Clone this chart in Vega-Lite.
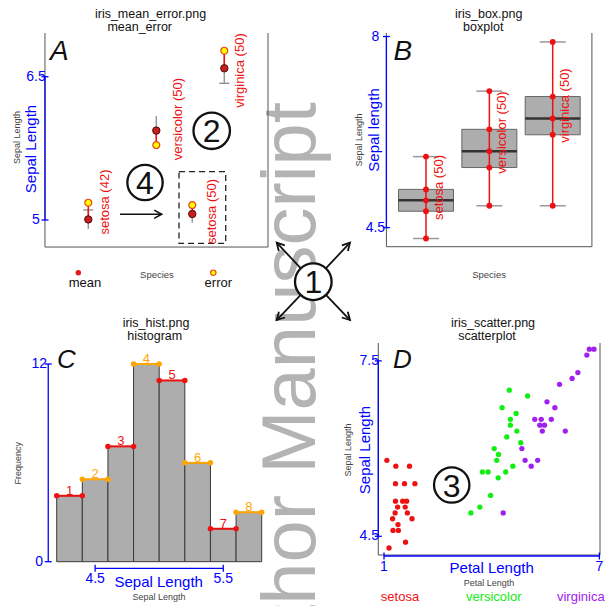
{
"$schema":"https://vega.github.io/schema/vega-lite/v6.json",
"width":605,"height":606,"autosize":{"type":"none"},"padding":0,"background":"white",
"config":{"view":{"stroke":null},"axis":{"disable":true,"labelFont":"Liberation Sans"},"text":{"font":"Liberation Sans"}},
"data":{"values":[{}]},
"resolve":{"scale":{"x":"independent","y":"independent","color":"independent"},"axis":{"x":"independent","y":"independent"}},
"layer":[
{
"layer":[
 {"mark":{"type":"text","text":"Author Manuscript","angle":270,"align":"right","baseline":"alphabetic","fontSize":76,"color":"#b3b3b3"},"encoding":{"x":{"datum":4.334},"y":{"datum":6.235}}},
 {"mark":{"type":"rule","color":"#555","strokeWidth":1},"encoding":{"x":{"datum":0.363},"y":{"datum":4.717},"y2":{"datum":6.957}}},
 {"mark":{"type":"rule","color":"#555","strokeWidth":1},"encoding":{"x":{"datum":0.363},"x2":{"datum":3.643},"y":{"datum":4.717}}},
 {"mark":{"type":"rule","color":"#555","strokeWidth":1},"encoding":{"x":{"datum":3.643},"y":{"datum":4.717},"y2":{"datum":6.957}}},
 {"mark":{"type":"rect","filled":false,"stroke":"#222","strokeWidth":1.3,"strokeDash":[6,4]},"encoding":{"x":{"datum":2.334},"x2":{"datum":3.021},"y":{"datum":4.756},"y2":{"datum":5.506}}},
 {"data":{"values":[{"x":1,"y":4.906,"y2":5.105},{"x":2,"y":5.79,"y2":6.089},{"x":3,"y":6.431,"y2":6.77},{"x":2.529,"y":4.972,"y2":5.063}]},"mark":{"type":"rule","color":"#9a9a9a","strokeWidth":1.5},
  "encoding":{
   "x":{"field":"x","type":"quantitative","scale":{"domain":[1,3],"range":[88.3,224.3],"nice":false,"zero":false},
    "axis":{"disable":false,"orient":"bottom","offset":-359,"values":[1,2,3],"labelExpr":"datum.value==1?'setosa':(datum.value==2?'versicolor':'virginica')","domain":false,"grid":false,"title":null,"labelFontSize":7,"labelColor":"#444","tickColor":"#444","tickSize":3,"labelPadding":3}},
   "y":{"field":"y","type":"quantitative","scale":{"domain":[5,6.5],"range":[220,76.7],"nice":false,"zero":false},
    "axis":{"disable":false,"orient":"left","offset":-45,"values":[5,5.5,6,6.5],"format":".1f","domain":false,"grid":false,"title":null,"labelFontSize":6,"labelAngle":-90,"labelColor":"#555","tickColor":"#555","tickSize":3,"labelPadding":2}},
   "y2":{"field":"y2"}}},
 {"data":{"values":[{"x":1,"y":5.105},{"x":3,"y":6.431}]},"mark":{"type":"tick","orient":"horizontal","color":"#8a8a8a","size":10,"thickness":1.3,"opacity":1},"encoding":{"x":{"field":"x","type":"quantitative"},"y":{"field":"y","type":"quantitative"}}},
 {"data":{"values":[{"x":1,"y":5.006,"y2":5.181},{"x":2,"y":5.936,"y2":5.785},{"x":3,"y":6.588,"y2":6.772},{"x":2.529,"y":5.063,"y2":5.157}]},"mark":{"type":"rule","color":"#ee1111","strokeWidth":1.5},"encoding":{"x":{"field":"x","type":"quantitative"},"y":{"field":"y","type":"quantitative"},"y2":{"field":"y2"}}},
 {"data":{"values":[{"x":1,"y":5.181},{"x":2,"y":5.785},{"x":3,"y":6.772},{"x":2.529,"y":5.157}]},"mark":{"type":"point","shape":"circle","filled":true,"fill":"#ffff00","stroke":"#e8401a","strokeWidth":1.2,"size":48,"opacity":1},"encoding":{"x":{"field":"x","type":"quantitative"},"y":{"field":"y","type":"quantitative"}}},
 {"data":{"values":[{"x":1,"y":5.006},{"x":2,"y":5.936},{"x":3,"y":6.588},{"x":2.529,"y":5.063}]},"mark":{"type":"point","shape":"circle","filled":true,"fill":"#c81e1e","stroke":"#4a1010","strokeWidth":1,"size":55,"opacity":1},"encoding":{"x":{"field":"x","type":"quantitative"},"y":{"field":"y","type":"quantitative"}}},
 {"mark":{"type":"text","text":"setosa (42)","angle":270,"align":"center","baseline":"middle","fontSize":13,"color":"#ee1111"},"encoding":{"x":{"datum":1.246},"y":{"datum":5.188}}},
 {"mark":{"type":"text","text":"versicolor (50)","angle":270,"align":"center","baseline":"middle","fontSize":13,"color":"#ee1111"},"encoding":{"x":{"datum":2.319},"y":{"datum":6.057}}},
 {"mark":{"type":"text","text":"virginica (50)","angle":270,"align":"center","baseline":"middle","fontSize":13,"color":"#ee1111"},"encoding":{"x":{"datum":3.231},"y":{"datum":6.565}}},
 {"mark":{"type":"text","text":"setosa (50)","angle":270,"align":"center","baseline":"middle","fontSize":13,"color":"#ee1111"},"encoding":{"x":{"datum":2.815},"y":{"datum":5.089}}},
 {"data":{"values":[{"y":5,"label":"5"},{"y":6.5,"label":"6.5"}]},"mark":{"type":"rule","color":"#0000ff","strokeWidth":1.3},"encoding":{"x":{"datum":0.363},"y":{"aggregate":"min","field":"y","type":"quantitative"},"y2":{"aggregate":"max","field":"y"}}},
 {"data":{"values":[{"y":5,"label":"5"},{"y":6.5,"label":"6.5"}]},"mark":{"type":"tick","orient":"horizontal","color":"#0000ff","size":7,"thickness":1.3,"opacity":1},"encoding":{"x":{"datum":0.363},"y":{"field":"y","type":"quantitative"}}},
 {"data":{"values":[{"y":5,"label":"5"},{"y":6.5,"label":"6.5"}]},"mark":{"type":"text","color":"#0000ff","fontSize":14,"align":"center","baseline":"middle","dx":-9},"encoding":{"x":{"datum":0.363},"y":{"field":"y","type":"quantitative"},"text":{"field":"label"}}},
 {"mark":{"type":"text","text":"Sepal Length","angle":270,"align":"center","baseline":"middle","fontSize":9,"color":"#444"},"encoding":{"x":{"datum":-0.0485},"y":{"datum":5.864}}},
 {"mark":{"type":"text","text":"Sepal Length","angle":270,"align":"center","baseline":"middle","fontSize":15,"color":"#0000ff"},"encoding":{"x":{"datum":0.157},"y":{"datum":5.743}}},
 {"mark":{"type":"text","text":"Species","align":"center","baseline":"middle","fontSize":9.5,"color":"#444"},"encoding":{"x":{"datum":2.01},"y":{"datum":4.424}}},
 {"mark":{"type":"point","shape":"circle","filled":true,"fill":"#e31a1a","strokeWidth":0,"size":30,"opacity":1},"encoding":{"x":{"datum":0.853},"y":{"datum":4.448}}},
 {"mark":{"type":"text","text":"mean","align":"center","baseline":"alphabetic","fontSize":13,"color":"#111"},"encoding":{"x":{"datum":0.951},"y":{"datum":4.299}}},
 {"mark":{"type":"point","shape":"circle","filled":true,"fill":"#ffff00","stroke":"#e8401a","strokeWidth":1.2,"size":30,"opacity":1},"encoding":{"x":{"datum":2.838},"y":{"datum":4.448}}},
 {"mark":{"type":"text","text":"error","align":"center","baseline":"alphabetic","fontSize":13,"color":"#111"},"encoding":{"x":{"datum":2.912},"y":{"datum":4.299}}},
 {"mark":{"type":"text","text":"iris_mean_error.png","align":"center","baseline":"alphabetic","fontSize":12.5,"color":"#111"},"encoding":{"x":{"datum":1.915},"y":{"datum":7.119}}},
 {"mark":{"type":"text","text":"mean_error","align":"center","baseline":"alphabetic","fontSize":12.5,"color":"#111"},"encoding":{"x":{"datum":1.756},"y":{"datum":6.979}}},
 {"mark":{"type":"text","text":"A","align":"left","baseline":"alphabetic","fontSize":28,"fontStyle":"italic","color":"#111"},"encoding":{"x":{"datum":0.437},"y":{"datum":6.675}}},
 {"mark":{"type":"rule","color":"#111","strokeWidth":1.6},"encoding":{"x":{"datum":1.466},"x2":{"datum":2.079},"y":{"datum":5.06}}},
 {"mark":{"type":"point","shape":"M -1 -0.55 L 0 0 L -1 0.55","filled":false,"color":"#111","strokeWidth":1.6,"size":225,"angle":0,"opacity":1},"encoding":{"x":{"datum":2.079},"y":{"datum":5.06}}},
 {"mark":{"type":"point","shape":"circle","filled":true,"fill":"white","stroke":"#111","strokeWidth":2.3,"size":1330,"opacity":1},"encoding":{"x":{"datum":2.815},"y":{"datum":5.934}}},
 {"mark":{"type":"text","text":"2","align":"center","baseline":"alphabetic","dy":11.5,"fontSize":32,"color":"#111"},"encoding":{"x":{"datum":2.815},"y":{"datum":5.934}}},
 {"mark":{"type":"point","shape":"circle","filled":true,"fill":"white","stroke":"#111","strokeWidth":2.3,"size":1250,"opacity":1},"encoding":{"x":{"datum":1.834},"y":{"datum":5.393}}},
 {"mark":{"type":"text","text":"4","align":"center","baseline":"alphabetic","dy":11.5,"fontSize":32,"color":"#111"},"encoding":{"x":{"datum":1.834},"y":{"datum":5.393}}}
]
},
{
"layer":[
 {"mark":{"type":"rule","color":"#555","strokeWidth":1},"encoding":{"x":{"datum":0.375},"y":{"datum":4.15},"y2":{"datum":8.064}}},
 {"mark":{"type":"rule","color":"#555","strokeWidth":1},"encoding":{"x":{"datum":0.375},"x2":{"datum":3.619},"y":{"datum":4.15}}},
 {"mark":{"type":"rule","color":"#555","strokeWidth":1},"encoding":{"x":{"datum":3.619},"y":{"datum":4.15},"y2":{"datum":8.064}}},
 {"data":{"values":[{"x":1,"y":4.8,"y2":5.2},{"x":2,"y":5.6,"y2":6.3},{"x":3,"y":6.2,"y2":6.9}]},"mark":{"type":"bar","width":55,"fill":"#adadad","stroke":"#666","strokeWidth":1,"orient":"vertical"},
  "encoding":{
   "x":{"field":"x","type":"quantitative","scale":{"domain":[1,3],"range":[421,557.7],"nice":false,"zero":false},
    "axis":{"disable":false,"orient":"bottom","offset":-359,"values":[1,2,3],"labelExpr":"datum.value==1?'setosa':(datum.value==2?'versicolor':'virginica')","domain":false,"grid":false,"title":null,"labelFontSize":7,"labelColor":"#444","tickColor":"#444","tickSize":3,"labelPadding":3}},
   "y":{"field":"y","type":"quantitative","scale":{"domain":[4.5,8],"range":[227.6,36.5],"nice":false,"zero":false},
    "axis":{"disable":false,"orient":"left","offset":-378.3,"values":[4.5,5,5.5,6,6.5,7,7.5,8],"format":".1f","domain":false,"grid":false,"title":null,"labelFontSize":6,"labelAngle":-90,"labelColor":"#555","tickColor":"#555","tickSize":3,"labelPadding":2}},
   "y2":{"field":"y2"}}},
 {"data":{"values":[{"x":1,"y":5.0},{"x":2,"y":5.9},{"x":3,"y":6.5}]},"mark":{"type":"tick","orient":"horizontal","color":"#333","size":55,"thickness":2.5,"opacity":1},"encoding":{"x":{"field":"x","type":"quantitative"},"y":{"field":"y","type":"quantitative"}}},
 {"data":{"values":[{"x":1,"y":4.3},{"x":1,"y":5.8},{"x":2,"y":4.9},{"x":2,"y":7.0},{"x":3,"y":4.9},{"x":3,"y":7.9}]},"mark":{"type":"tick","orient":"horizontal","color":"#999","size":26,"thickness":1.5,"opacity":1},"encoding":{"x":{"field":"x","type":"quantitative"},"y":{"field":"y","type":"quantitative"}}},
 {"data":{"values":[{"x":1,"y":4.3,"y2":5.8},{"x":2,"y":4.9,"y2":7.0},{"x":3,"y":4.9,"y2":7.9}]},"mark":{"type":"rule","color":"#ee1111","strokeWidth":1.5},"encoding":{"x":{"field":"x","type":"quantitative"},"y":{"field":"y","type":"quantitative"},"y2":{"field":"y2"}}},
 {"data":{"values":[{"x":1,"y":4.3},{"x":1,"y":4.8},{"x":1,"y":5.0},{"x":1,"y":5.2},{"x":1,"y":5.8},{"x":2,"y":4.9},{"x":2,"y":5.6},{"x":2,"y":5.9},{"x":2,"y":6.3},{"x":2,"y":7.0},{"x":3,"y":4.9},{"x":3,"y":6.2},{"x":3,"y":6.5},{"x":3,"y":6.9},{"x":3,"y":7.9}]},"mark":{"type":"point","shape":"circle","filled":true,"color":"#ee1111","size":34,"opacity":1},"encoding":{"x":{"field":"x","type":"quantitative"},"y":{"field":"y","type":"quantitative"}}},
 {"mark":{"type":"text","text":"setosa (50)","angle":270,"align":"center","baseline":"middle","fontSize":13,"color":"#ee1111"},"encoding":{"x":{"datum":1.205},"y":{"datum":5.234}}},
 {"mark":{"type":"text","text":"versicolor (50)","angle":270,"align":"center","baseline":"middle","fontSize":13,"color":"#ee1111"},"encoding":{"x":{"datum":2.2},"y":{"datum":6.242}}},
 {"mark":{"type":"text","text":"virginica (50)","angle":270,"align":"center","baseline":"middle","fontSize":13,"color":"#ee1111"},"encoding":{"x":{"datum":3.2},"y":{"datum":6.736}}},
 {"data":{"values":[{"y":4.5,"label":"4.5"},{"y":8,"label":"8"}]},"mark":{"type":"rule","color":"#0000ff","strokeWidth":1.3},"encoding":{"x":{"datum":0.375},"y":{"aggregate":"min","field":"y","type":"quantitative"},"y2":{"aggregate":"max","field":"y"}}},
 {"data":{"values":[{"y":4.5,"label":"4.5"},{"y":8,"label":"8"}]},"mark":{"type":"tick","orient":"horizontal","color":"#0000ff","size":7,"thickness":1.3,"opacity":1},"encoding":{"x":{"datum":0.375},"y":{"field":"y","type":"quantitative"}}},
 {"data":{"values":[{"y":4.5,"label":"4.5"},{"y":8,"label":"8"}]},"mark":{"type":"text","color":"#0000ff","fontSize":14,"align":"center","baseline":"middle","dx":-11},"encoding":{"x":{"datum":0.375},"y":{"field":"y","type":"quantitative"},"text":{"field":"label"}}},
 {"mark":{"type":"text","text":"Sepal Length","angle":270,"align":"center","baseline":"middle","fontSize":9,"color":"#444"},"encoding":{"x":{"datum":-0.053},"y":{"datum":6.104}}},
 {"mark":{"type":"text","text":"Sepal length","angle":270,"align":"center","baseline":"middle","fontSize":15,"color":"#0000ff"},"encoding":{"x":{"datum":0.181},"y":{"datum":6.288}}},
 {"mark":{"type":"text","text":"Species","align":"center","baseline":"middle","fontSize":9.5,"color":"#444"},"encoding":{"x":{"datum":1.995},"y":{"datum":3.632}}},
 {"mark":{"type":"text","text":"iris_box.png","align":"center","baseline":"alphabetic","fontSize":12.5,"color":"#111"},"encoding":{"x":{"datum":1.99},"y":{"datum":8.347}}},
 {"mark":{"type":"text","text":"boxplot","align":"center","baseline":"alphabetic","fontSize":12.5,"color":"#111"},"encoding":{"x":{"datum":1.904},"y":{"datum":8.101}}},
 {"mark":{"type":"text","text":"B","align":"left","baseline":"alphabetic","fontSize":28,"fontStyle":"italic","color":"#111"},"encoding":{"x":{"datum":0.488},"y":{"datum":7.57}}}
]
},
{
"layer":[
 {"data":{"values":[{"bin":1,"x":4.2,"x2":4.4,"y":4},{"bin":2,"x":4.4,"x2":4.6,"y":5},{"bin":3,"x":4.6,"x2":4.8,"y":7},{"bin":4,"x":4.8,"x2":5.0,"y":12},{"bin":5,"x":5.0,"x2":5.2,"y":11},{"bin":6,"x":5.2,"x2":5.4,"y":6},{"bin":7,"x":5.4,"x2":5.6,"y":2},{"bin":8,"x":5.6,"x2":5.8,"y":3}]},"mark":{"type":"rect","fill":"#adadad","stroke":"#3a3a3a","strokeWidth":1},
  "encoding":{
   "x":{"field":"x","type":"quantitative","scale":{"domain":[4.2,5.8],"range":[56.7,261.7],"nice":false,"zero":false},
    "axis":{"disable":false,"orient":"bottom","offset":-37.7,"values":[4.5,5,5.5],"format":".1f","domain":false,"grid":false,"title":null,"labelFontSize":6,"labelColor":"#555","tickColor":"#555","tickSize":3,"labelPadding":4}},
   "y":{"field":"y","type":"quantitative","scale":{"domain":[0,12],"range":[561.7,364],"nice":false,"zero":false},
    "axis":{"disable":false,"orient":"left","offset":-48.3,"values":[0,2,4,6,8,10,12],"format":"d","domain":false,"grid":false,"title":null,"labelFontSize":6,"labelAngle":-90,"labelColor":"#555","tickColor":"#555","tickSize":3,"labelPadding":3}},
   "x2":{"field":"x2"},"y2":{"datum":0}}},
 {"data":{"values":[{"bin":1,"x":4.2,"x2":4.4,"y":4},{"bin":2,"x":4.4,"x2":4.6,"y":5},{"bin":3,"x":4.6,"x2":4.8,"y":7},{"bin":4,"x":4.8,"x2":5.0,"y":12},{"bin":5,"x":5.0,"x2":5.2,"y":11},{"bin":6,"x":5.2,"x2":5.4,"y":6},{"bin":7,"x":5.4,"x2":5.6,"y":2},{"bin":8,"x":5.6,"x2":5.8,"y":3}]},"mark":{"type":"rule","strokeWidth":2},
  "encoding":{"x":{"field":"x","type":"quantitative"},"x2":{"field":"x2"},"y":{"field":"y","type":"quantitative"},
   "color":{"field":"bin","type":"nominal","scale":{"domain":[1,2,3,4,5,6,7,8],"range":["#ee1111","#ffa500","#ee1111","#ffa500","#ee1111","#ffa500","#ee1111","#ffa500"]},"legend":null}}},
 {"data":{"values":[{"bin":1,"x":4.2,"x2":4.4,"y":4},{"bin":2,"x":4.4,"x2":4.6,"y":5},{"bin":3,"x":4.6,"x2":4.8,"y":7},{"bin":4,"x":4.8,"x2":5.0,"y":12},{"bin":5,"x":5.0,"x2":5.2,"y":11},{"bin":6,"x":5.2,"x2":5.4,"y":6},{"bin":7,"x":5.4,"x2":5.6,"y":2},{"bin":8,"x":5.6,"x2":5.8,"y":3}]},"mark":{"type":"point","shape":"circle","filled":true,"size":30,"opacity":1},
  "encoding":{"x":{"field":"x","type":"quantitative"},"y":{"field":"y","type":"quantitative"},
   "color":{"field":"bin","type":"nominal","scale":{"domain":[1,2,3,4,5,6,7,8],"range":["#ee1111","#ffa500","#ee1111","#ffa500","#ee1111","#ffa500","#ee1111","#ffa500"]},"legend":null}}},
 {"data":{"values":[{"bin":1,"x":4.2,"x2":4.4,"y":4},{"bin":2,"x":4.4,"x2":4.6,"y":5},{"bin":3,"x":4.6,"x2":4.8,"y":7},{"bin":4,"x":4.8,"x2":5.0,"y":12},{"bin":5,"x":5.0,"x2":5.2,"y":11},{"bin":6,"x":5.2,"x2":5.4,"y":6},{"bin":7,"x":5.4,"x2":5.6,"y":2},{"bin":8,"x":5.6,"x2":5.8,"y":3}]},"mark":{"type":"point","shape":"circle","filled":true,"size":30,"opacity":1},
  "encoding":{"x":{"field":"x2","type":"quantitative"},"y":{"field":"y","type":"quantitative"},
   "color":{"field":"bin","type":"nominal","scale":{"domain":[1,2,3,4,5,6,7,8],"range":["#ee1111","#ffa500","#ee1111","#ffa500","#ee1111","#ffa500","#ee1111","#ffa500"]},"legend":null}}},
 {"data":{"values":[{"bin":1,"x":4.2,"x2":4.4,"y":4},{"bin":2,"x":4.4,"x2":4.6,"y":5},{"bin":3,"x":4.6,"x2":4.8,"y":7},{"bin":4,"x":4.8,"x2":5.0,"y":12},{"bin":5,"x":5.0,"x2":5.2,"y":11},{"bin":6,"x":5.2,"x2":5.4,"y":6},{"bin":7,"x":5.4,"x2":5.6,"y":2},{"bin":8,"x":5.6,"x2":5.8,"y":3}]},"mark":{"type":"text","fontSize":13,"align":"center","baseline":"alphabetic","dx":12.8,"dy":-1},
  "encoding":{"x":{"field":"x","type":"quantitative"},"y":{"field":"y","type":"quantitative"},"text":{"field":"bin","type":"nominal"},
   "color":{"field":"bin","type":"nominal","scale":{"domain":[1,2,3,4,5,6,7,8],"range":["#ee1111","#ffa500","#ee1111","#ffa500","#ee1111","#ffa500","#ee1111","#ffa500"]},"legend":null}}},
 {"data":{"values":[{"y":0,"label":"0"},{"y":12,"label":"12"}]},"mark":{"type":"rule","color":"#0000ff","strokeWidth":1.3},"encoding":{"x":{"datum":4.134},"y":{"aggregate":"min","field":"y","type":"quantitative"},"y2":{"aggregate":"max","field":"y"}}},
 {"data":{"values":[{"y":0,"label":"0"},{"y":12,"label":"12"}]},"mark":{"type":"tick","orient":"horizontal","color":"#0000ff","size":7,"thickness":1.3,"opacity":1},"encoding":{"x":{"datum":4.134},"y":{"field":"y","type":"quantitative"}}},
 {"data":{"values":[{"y":0,"label":"0"},{"y":12,"label":"12"}]},"mark":{"type":"text","color":"#0000ff","fontSize":14,"align":"center","baseline":"middle","dx":-9},"encoding":{"x":{"datum":4.134},"y":{"field":"y","type":"quantitative"},"text":{"field":"label"}}},
 {"data":{"values":[{"x":4.5,"label":"4.5"},{"x":5.5,"label":"5.5"}]},"mark":{"type":"rule","color":"#0000ff","strokeWidth":1.3},"encoding":{"y":{"datum":-0.4},"x":{"aggregate":"min","field":"x","type":"quantitative"},"x2":{"aggregate":"max","field":"x"}}},
 {"data":{"values":[{"x":4.5,"label":"4.5"},{"x":5.5,"label":"5.5"}]},"mark":{"type":"tick","orient":"vertical","color":"#0000ff","size":7,"thickness":1.3,"opacity":1},"encoding":{"y":{"datum":-0.4},"x":{"field":"x","type":"quantitative"}}},
 {"data":{"values":[{"x":4.5,"label":"4.5"},{"x":5.5,"label":"5.5"}]},"mark":{"type":"text","color":"#0000ff","fontSize":14,"align":"center","baseline":"middle"},"encoding":{"y":{"datum":-1.05},"x":{"field":"x","type":"quantitative"},"text":{"field":"label"}}},
 {"mark":{"type":"text","text":"Frequency","angle":270,"align":"center","baseline":"middle","fontSize":9,"color":"#444"},"encoding":{"x":{"datum":3.9},"y":{"datum":5.973}}},
 {"mark":{"type":"text","text":"Sepal Length","align":"center","baseline":"middle","fontSize":15,"color":"#0000ff"},"encoding":{"x":{"datum":4.996},"y":{"datum":-1.214}}},
 {"mark":{"type":"text","text":"Sepal Length","align":"center","baseline":"middle","fontSize":9,"color":"#444"},"encoding":{"x":{"datum":4.998},"y":{"datum":-2.124}}},
 {"mark":{"type":"text","text":"iris_hist.png","align":"center","baseline":"alphabetic","fontSize":12.5,"color":"#111"},"encoding":{"x":{"datum":4.975},"y":{"datum":14.276}}},
 {"mark":{"type":"text","text":"histogram","align":"center","baseline":"alphabetic","fontSize":12.5,"color":"#111"},"encoding":{"x":{"datum":4.965},"y":{"datum":13.487}}},
 {"mark":{"type":"text","text":"C","align":"left","baseline":"alphabetic","fontSize":26,"fontStyle":"italic","color":"#111"},"encoding":{"x":{"datum":4.202},"y":{"datum":11.757}}}
]
},
{
"layer":[
 {"mark":{"type":"rule","color":"#555","strokeWidth":1},"encoding":{"x":{"datum":0.841},"y":{"datum":4.18},"y2":{"datum":7.806}}},
 {"mark":{"type":"rule","color":"#555","strokeWidth":1},"encoding":{"x":{"datum":0.841},"x2":{"datum":7.017},"y":{"datum":4.18}}},
 {"mark":{"type":"rule","color":"#555","strokeWidth":1},"encoding":{"x":{"datum":7.017},"y":{"datum":4.18},"y2":{"datum":7.806}}},
 {"data":{"values":[
  {"species":"setosa","x":1.08,"y":5.8},{"species":"setosa","x":1.33,"y":5.7},{"species":"setosa","x":1.71,"y":5.7},{"species":"setosa","x":1.32,"y":5.4},{"species":"setosa","x":1.57,"y":5.4},{"species":"setosa","x":1.86,"y":5.4},{"species":"setosa","x":1.32,"y":5.1},{"species":"setosa","x":1.52,"y":5.1},{"species":"setosa","x":1.63,"y":5.1},{"species":"setosa","x":1.38,"y":5.0},{"species":"setosa","x":1.59,"y":5.0},{"species":"setosa","x":1.31,"y":4.9},{"species":"setosa","x":1.65,"y":4.9},{"species":"setosa","x":1.24,"y":4.8},{"species":"setosa","x":1.78,"y":4.8},{"species":"setosa","x":1.39,"y":4.7},{"species":"setosa","x":1.25,"y":4.6},{"species":"setosa","x":1.4,"y":4.6},{"species":"setosa","x":1.6,"y":4.4},{"species":"setosa","x":1.14,"y":4.3},
  {"species":"versicolor","x":4.49,"y":7.0},{"species":"versicolor","x":5.0,"y":6.9},{"species":"versicolor","x":4.29,"y":6.7},{"species":"versicolor","x":4.68,"y":6.6},{"species":"versicolor","x":4.52,"y":6.5},{"species":"versicolor","x":4.52,"y":6.4},{"species":"versicolor","x":4.7,"y":6.3},{"species":"versicolor","x":4.42,"y":6.2},{"species":"versicolor","x":4.81,"y":6.1},{"species":"versicolor","x":4.07,"y":6.0},{"species":"versicolor","x":4.19,"y":5.9},{"species":"versicolor","x":4.14,"y":5.8},{"species":"versicolor","x":4.59,"y":5.7},{"species":"versicolor","x":3.74,"y":5.6},{"species":"versicolor","x":3.9,"y":5.6},{"species":"versicolor","x":4.39,"y":5.6},{"species":"versicolor","x":4.18,"y":5.5},{"species":"versicolor","x":3.97,"y":5.2},{"species":"versicolor","x":3.67,"y":5.0},{"species":"versicolor","x":3.42,"y":4.9},
  {"species":"virginica","x":6.72,"y":7.7},{"species":"virginica","x":6.85,"y":7.7},{"species":"virginica","x":6.65,"y":7.6},{"species":"virginica","x":6.4,"y":7.3},{"species":"virginica","x":6.24,"y":7.2},{"species":"virginica","x":5.89,"y":7.1},{"species":"virginica","x":5.54,"y":6.8},{"species":"virginica","x":5.76,"y":6.7},{"species":"virginica","x":5.2,"y":6.5},{"species":"virginica","x":5.38,"y":6.5},{"species":"virginica","x":5.66,"y":6.5},{"species":"virginica","x":5.34,"y":6.4},{"species":"virginica","x":5.47,"y":6.4},{"species":"virginica","x":5.41,"y":6.3},{"species":"virginica","x":6.05,"y":6.3},{"species":"virginica","x":4.84,"y":6.0},{"species":"virginica","x":4.93,"y":5.8},{"species":"virginica","x":5.28,"y":5.8},{"species":"virginica","x":5.1,"y":5.7},{"species":"virginica","x":4.32,"y":4.9}
 ]},"mark":{"type":"point","shape":"circle","filled":true,"size":28,"opacity":1},
  "encoding":{
   "x":{"field":"x","type":"quantitative","scale":{"domain":[1,7],"range":[384,599.4],"nice":false,"zero":false},
    "axis":{"disable":false,"orient":"bottom","offset":-51,"values":[1,2,3,4,5,6,7],"labelExpr":"datum.value%2==0?datum.label:''","domain":false,"grid":false,"title":null,"labelFontSize":6,"labelColor":"#555","tickColor":"#555","tickSize":3,"labelPadding":5}},
   "y":{"field":"y","type":"quantitative","scale":{"domain":[4.3,7.7],"range":[548,349.2],"nice":false,"zero":false},
    "axis":{"disable":false,"orient":"left","offset":-378.3,"values":[4.5,5,5.5,6,6.5,7,7.5],"format":".1f","domain":false,"grid":false,"title":null,"labelFontSize":6,"labelAngle":-90,"labelColor":"#555","tickColor":"#555","tickSize":3,"labelPadding":2}},
   "color":{"field":"species","type":"nominal","scale":{"domain":["setosa","versicolor","virginica"],"range":["#ee1111","#11ee11","#a020f0"]},"legend":null}}},
 {"data":{"values":[{"y":4.5,"label":"4.5"},{"y":7.5,"label":"7.5"}]},"mark":{"type":"rule","color":"#0000ff","strokeWidth":1.3},"encoding":{"x":{"datum":0.841},"y":{"aggregate":"min","field":"y","type":"quantitative"},"y2":{"aggregate":"max","field":"y"}}},
 {"data":{"values":[{"y":4.5,"label":"4.5"},{"y":7.5,"label":"7.5"}]},"mark":{"type":"tick","orient":"horizontal","color":"#0000ff","size":7,"thickness":1.3,"opacity":1},"encoding":{"x":{"datum":0.841},"y":{"field":"y","type":"quantitative"}}},
 {"data":{"values":[{"y":4.5,"label":"4.5"},{"y":7.5,"label":"7.5"}]},"mark":{"type":"text","color":"#0000ff","fontSize":14,"align":"center","baseline":"middle","dx":-9},"encoding":{"x":{"datum":0.841},"y":{"field":"y","type":"quantitative"},"text":{"field":"label"}}},
 {"data":{"values":[{"x":1,"label":"1"},{"x":7,"label":"7"}]},"mark":{"type":"rule","color":"#0000ff","strokeWidth":1.3},"encoding":{"y":{"datum":4.163},"x":{"aggregate":"min","field":"x","type":"quantitative"},"x2":{"aggregate":"max","field":"x"}}},
 {"data":{"values":[{"x":1,"label":"1"},{"x":7,"label":"7"}]},"mark":{"type":"tick","orient":"vertical","color":"#0000ff","size":7,"thickness":1.3,"opacity":1},"encoding":{"y":{"datum":4.163},"x":{"field":"x","type":"quantitative"}}},
 {"data":{"values":[{"x":1,"label":"1"},{"x":7,"label":"7"}]},"mark":{"type":"text","color":"#0000ff","fontSize":14,"align":"center","baseline":"middle"},"encoding":{"y":{"datum":3.98},"x":{"field":"x","type":"quantitative"},"text":{"field":"label"}}},
 {"mark":{"type":"text","text":"Petal Length","align":"center","baseline":"middle","fontSize":15,"color":"#0000ff"},"encoding":{"x":{"datum":4.0},"y":{"datum":3.953}}},
 {"mark":{"type":"text","text":"Petal Length","align":"center","baseline":"middle","fontSize":9,"color":"#444"},"encoding":{"x":{"datum":3.925},"y":{"datum":3.696}}},
 {"mark":{"type":"text","text":"Sepal Length","angle":270,"align":"center","baseline":"middle","fontSize":9,"color":"#444"},"encoding":{"x":{"datum":-0.003},"y":{"datum":5.976}}},
 {"mark":{"type":"text","text":"Sepal Length","angle":270,"align":"center","baseline":"middle","fontSize":15,"color":"#0000ff"},"encoding":{"x":{"datum":0.471},"y":{"datum":5.976}}},
 {"mark":{"type":"text","text":"iris_scatter.png","align":"center","baseline":"alphabetic","fontSize":12.5,"color":"#111"},"encoding":{"x":{"datum":4.036},"y":{"datum":8.088}}},
 {"mark":{"type":"text","text":"scatterplot","align":"center","baseline":"alphabetic","fontSize":12.5,"color":"#111"},"encoding":{"x":{"datum":3.869},"y":{"datum":7.852}}},
 {"mark":{"type":"text","text":"D","align":"left","baseline":"alphabetic","fontSize":26,"fontStyle":"italic","color":"#111"},"encoding":{"x":{"datum":1.251},"y":{"datum":7.379}}},
 {"mark":{"type":"text","text":"setosa","align":"center","baseline":"alphabetic","fontSize":13,"color":"#ee1111"},"encoding":{"x":{"datum":1.446},"y":{"datum":3.394}}},
 {"mark":{"type":"text","text":"versicolor","align":"center","baseline":"alphabetic","fontSize":13,"color":"#11ee11"},"encoding":{"x":{"datum":4.056},"y":{"datum":3.394}}},
 {"mark":{"type":"text","text":"virginica","align":"center","baseline":"alphabetic","fontSize":13,"color":"#a020f0"},"encoding":{"x":{"datum":6.482},"y":{"datum":3.394}}},
 {"mark":{"type":"point","shape":"circle","filled":true,"fill":"white","stroke":"#111","strokeWidth":2.3,"size":1250,"opacity":1},"encoding":{"x":{"datum":2.886},"y":{"datum":5.377}}},
 {"mark":{"type":"text","text":"3","align":"center","baseline":"alphabetic","dy":11.5,"fontSize":32,"color":"#111"},"encoding":{"x":{"datum":2.886},"y":{"datum":5.377}}},
 {"mark":{"type":"rule","color":"#111","strokeWidth":1.8},"encoding":{"x":{"datum":-0.969},"y":{"datum":8.854},"x2":{"datum":-1.989},"y2":{"datum":9.522}}},
 {"mark":{"type":"rule","color":"#111","strokeWidth":1.8},"encoding":{"x":{"datum":-0.969},"y":{"datum":8.854},"x2":{"datum":0.053},"y2":{"datum":9.522}}},
 {"mark":{"type":"rule","color":"#111","strokeWidth":1.8},"encoding":{"x":{"datum":-0.969},"y":{"datum":8.854},"x2":{"datum":-1.989},"y2":{"datum":8.199}}},
 {"mark":{"type":"rule","color":"#111","strokeWidth":1.8},"encoding":{"x":{"datum":-0.969},"y":{"datum":8.854},"x2":{"datum":0.053},"y2":{"datum":8.199}}},
 {"mark":{"type":"point","shape":"M -1 -0.55 L 0 0 L -1 0.55","filled":false,"color":"#111","strokeWidth":1.8,"size":225,"angle":227,"opacity":1},"encoding":{"x":{"datum":-1.989},"y":{"datum":9.522}}},
 {"mark":{"type":"point","shape":"M -1 -0.55 L 0 0 L -1 0.55","filled":false,"color":"#111","strokeWidth":1.8,"size":225,"angle":313,"opacity":1},"encoding":{"x":{"datum":0.053},"y":{"datum":9.522}}},
 {"mark":{"type":"point","shape":"M -1 -0.55 L 0 0 L -1 0.55","filled":false,"color":"#111","strokeWidth":1.8,"size":225,"angle":134,"opacity":1},"encoding":{"x":{"datum":-1.989},"y":{"datum":8.199}}},
 {"mark":{"type":"point","shape":"M -1 -0.55 L 0 0 L -1 0.55","filled":false,"color":"#111","strokeWidth":1.8,"size":225,"angle":46,"opacity":1},"encoding":{"x":{"datum":0.053},"y":{"datum":8.199}}},
 {"mark":{"type":"point","shape":"circle","filled":true,"fill":"white","stroke":"#111","strokeWidth":2.3,"size":1340,"opacity":1},"encoding":{"x":{"datum":-0.969},"y":{"datum":8.854}}},
 {"mark":{"type":"text","text":"1","align":"center","baseline":"alphabetic","dy":11.5,"fontSize":32,"color":"#111"},"encoding":{"x":{"datum":-0.969},"y":{"datum":8.854}}}
]
}
]
}
